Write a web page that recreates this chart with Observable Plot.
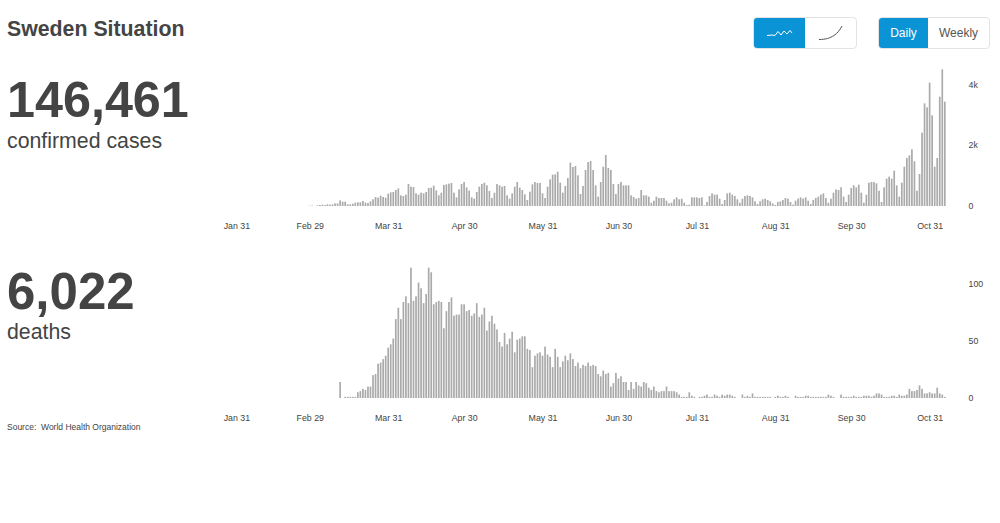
<!DOCTYPE html>
<html><head><meta charset="utf-8">
<script src="https://cdn.jsdelivr.net/npm/d3@7"></script>
<script src="https://cdn.jsdelivr.net/npm/@observablehq/plot@0.6"></script>
<style>
html,body{margin:0;padding:0;background:#fff;width:1000px;height:523px;overflow:hidden;font-family:"Liberation Sans",Arial,sans-serif;color:#444}
.t{position:absolute;white-space:nowrap;line-height:1}
.chart{position:absolute;left:0}
.group{position:absolute;top:17px;height:30px;display:flex;border:1px solid #e3e3e3;border-radius:4px;overflow:hidden;background:#fff}
.btn{display:flex;align-items:center;justify-content:center;font-size:12px;color:#555;box-sizing:border-box}
.btn.on{background:#0a94d6;color:#fff}
</style></head><body>
<div class="t" style="left:7px;top:19px;font-size:21.3px;font-weight:bold">Sweden Situation</div>
<div class="t" style="left:7px;top:75px;font-size:50.3px;font-weight:bold">146,461</div>
<div class="t" style="left:7px;top:131px;font-size:21.3px">confirmed cases</div>
<div class="t" style="left:7px;top:266px;font-size:51px;font-weight:bold">6,022</div>
<div class="t" style="left:7px;top:322px;font-size:21.3px">deaths</div>
<div class="t" style="left:7px;top:423px;font-size:8.5px">Source:&nbsp; World Health Organization</div>
<div class="group" style="left:753px;width:102px">
 <div class="btn on" style="width:51px"><svg width="26" height="10" viewBox="0 0 26 10"><path d="M0 7.5L5 7L8 7.5L11 3.5L14 7L17 3L20 6L23 2.5L25 5" fill="none" stroke="#fff" stroke-width="1"/></svg></div>
 <div class="btn" style="width:51px"><svg width="24" height="16" viewBox="0 0 24 16"><path d="M0 14.5C7 14.5 11 13 15 10.5C18 8.5 21 5 23 1" fill="none" stroke="#555" stroke-width="1"/></svg></div>
</div>
<div class="group" style="left:878px;width:110px">
 <div class="btn on" style="width:49px">Daily</div>
 <div class="btn" style="width:61px">Weekly</div>
</div>
<div id="c1" class="chart" style="top:60px"></div>
<div id="c2" class="chart" style="top:252px"></div>
<script>
const tickDates = ["2020-01-31","2020-02-29","2020-03-31","2020-04-30","2020-05-31","2020-06-30","2020-07-31","2020-08-31","2020-09-30","2020-10-31"];
const casesStart = "2020-02-29";
const deathsStart = "2020-03-12";
const casesValues = [11,11,0,22,33,44,33,55,44,55,88,88,187,143,143,55,55,77,110,121,121,165,110,99,154,220,297,275,341,297,275,407,451,462,528,583,352,330,374,726,638,627,418,374,440,418,462,594,605,671,517,352,440,693,715,737,759,440,286,550,726,792,616,506,286,242,462,638,726,770,682,495,264,440,726,682,638,660,352,242,418,638,792,605,528,385,198,473,715,792,759,759,418,264,638,880,1034,1045,1133,770,440,660,924,1430,1287,1320,1012,396,660,1188,1452,1485,1188,682,308,792,1298,1683,1254,1188,726,396,726,792,682,682,682,352,297,242,264,
528,352,352,308,110,176,308,264,264,264,176,88,110,220,286,220,242,110,33,44,286,286,286,264,286,22,132,330,418,374,374,242,66,198,418,440,374,330,220,110,242,330,352,330,286,154,66,154,220,242,198,154,88,33,132,154,198,264,242,132,44,176,242,286,242,286,176,66,198,264,308,374,418,264,110,242,440,550,528,616,308,132,374,594,682,616,704,440,110,374,770,792,792,748,506,132,616,902,968,902,1166,682,308,770,1298,1584,1672,1870,1474,506,1056,2420,3388,3256,4070,2992,1298,1584,3608,4510,3443];
const deathsValues = [14,0,1,1,1,1,1,5,6,8,7,10,10,20,21,30,31,34,37,44,47,52,69,79,69,84,89,83,114,85,89,101,96,83,91,114,110,82,84,85,84,61,76,84,88,72,73,73,82,82,76,77,72,74,83,71,73,79,59,67,72,65,60,49,45,57,47,52,58,40,51,52,54,54,43,42,27,37,39,40,37,45,38,36,27,43,36,27,32,37,33,39,34,28,31,26,29,28,31,28,29,28,21,19,24,21,22,10,13,22,17,19,14,14,7,14,8,14,11,
10,14,13,9,7,10,6,5,6,6,10,6,6,6,5,3,1,1,1,5,2,1,0,1,1,2,3,1,1,3,2,1,3,2,3,3,2,1,0,0,3,1,2,1,4,1,1,1,1,1,1,1,0,1,2,1,1,2,1,0,0,2,1,1,1,2,2,1,1,1,1,1,1,1,3,2,1,0,0,3,1,1,1,1,2,1,1,1,2,2,2,1,2,4,4,3,1,1,1,2,2,1,3,2,2,3,8,6,6,7,11,8,4,4,5,4,4,9,4,3,1];
const xDomain = [new Date("2020-01-31"), new Date("2020-11-06")];
const xRange = [236.4, 944.8];
function chart(el, start, values, yMax, yTicks, yFmt, h, base){
  const t0 = new Date(start);
  const data = values.map((v,i)=>({date:d3.utcDay.offset(t0,i),v}));
  const svg = Plot.plot({
    width:1000,height:h,marginLeft:0,marginRight:0,marginTop:0,marginBottom:h-base,
    style:{background:"transparent",fontFamily:"'Liberation Sans',Arial,sans-serif",fontSize:"8.8px",color:"#444"},
    x:{type:"utc",domain:xDomain,range:xRange},
    y:{domain:[0,yMax],range:[base,base-yMax*yTicks.k]},
    marks:[
      Plot.rectY(data,{x1:d=>d3.utcHour.offset(d.date,-8),x2:d=>d3.utcHour.offset(d.date,8),y:"v",fill:"#aaaaaa"}),
      Plot.axisX({ticks:tickDates.map(d=>new Date(d)),tickFormat:d3.utcFormat("%b %d"),tickSize:0,tickPadding:16.5,label:null}),
      Plot.axisY({anchor:"right",ticks:yTicks.v,tickFormat:yFmt,tickSize:0,tickPadding:0,label:null,textAnchor:"start",dx:-32,dy:-0.5})
    ]
  });
  document.getElementById(el).appendChild(svg);
}
chart("c1",casesStart,casesValues,4600,{v:[0,2000,4000],k:0.0303},d=>d===0?"0":(d/1000)+"k",175,146);
chart("c2",deathsStart,deathsValues,116,{v:[0,50,100],k:1.143},d=>d,175,146);
</script>
</body></html>
